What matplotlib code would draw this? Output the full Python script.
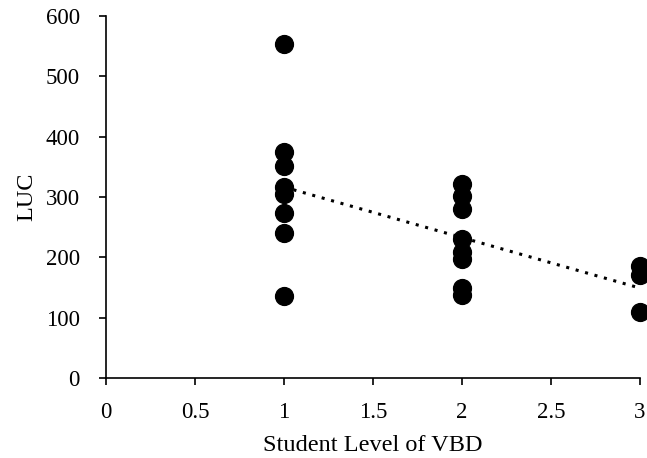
import numpy as np
import matplotlib.pyplot as plt

plt.rcParams['font.family'] = ['Liberation Serif', 'DejaVu Serif']

# Student level of VBD and LUC scores
level = [1, 1, 1, 1, 1, 1, 1, 1,
         2, 2, 2, 2, 2, 2, 2, 2,
         3, 3, 3]
luc = [554, 375, 351, 317, 305, 273, 240, 136,
       321, 301, 280, 231, 209, 198, 149, 137,
       186, 171, 109]

x_ticks = [0, 0.5, 1, 1.5, 2, 2.5, 3]
x_tick_labels = ['0', '0.5', '1', '1.5', '2', '2.5', '3']
y_ticks = [0, 100, 200, 300, 400, 500, 600]

fig = plt.figure(figsize=(6.47, 4.58), dpi=100)
ax = fig.add_axes([0.164, 0.1747, 0.825, 0.79])

ax.scatter(level, luc, s=165, color='black', zorder=3, clip_on=False)

# linear trendline over the data range
slope, intercept = np.polyfit(level, luc, 1)
xs = np.array([min(level), max(level)])
ax.plot(xs, slope * xs + intercept, color='black', linestyle=(0, (1, 2.2)),
        linewidth=2.2, zorder=2)

ax.set_xlim(0, 3)
ax.set_ylim(0, 600)
ax.set_xticks(x_ticks)
ax.set_xticklabels(x_tick_labels)
ax.set_yticks(y_ticks)

for side in ['top', 'right']:
    ax.spines[side].set_visible(False)
for side in ['left', 'bottom']:
    ax.spines[side].set_linewidth(1.2)

ax.tick_params(axis='both', direction='out', length=5, width=1.2, labelsize=16.5)
ax.tick_params(axis='y', pad=14)
ax.tick_params(axis='x', pad=12)
ax.set_xlabel('Student Level of VBD', fontsize=17.5, labelpad=9)
ax.set_ylabel('LUC', fontsize=17.5, labelpad=6)

fig.savefig('out.png', dpi=100)
